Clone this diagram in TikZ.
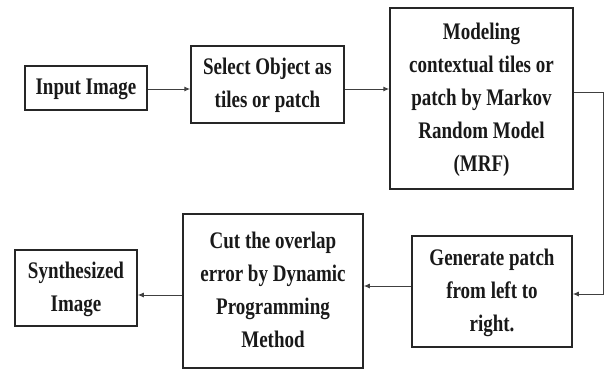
\documentclass[tikz,border=0pt]{standalone}
\usepackage{fontspec}
\setmainfont{Liberation Serif}
\usepackage{graphicx}
\usetikzlibrary{arrows.meta}
\newcommand\boxtxt[1]{\scalebox{1}[1.25]{\begin{tabular}{@{}c@{}}#1\end{tabular}}}
\tikzset{
  blk/.style={draw=black!85, line width=1.5pt, fill=white, inner sep=0pt, align=center,
    font=\fontsize{19}{26.4}\selectfont\bfseries, text=black!90},
  arr/.style={draw=black!75, line width=1pt, -{Latex[length=6pt,width=5pt]}},
  lin/.style={draw=black!75, line width=1pt}
}
\begin{document}
\begin{tikzpicture}[x=1pt,y=-1pt]
\useasboundingbox (0,0) rectangle (609,370);
\node[blk, minimum width=122pt, minimum height=44pt] (inp) at (86,88) {\boxtxt{Input Image}};
\node[blk, minimum width=153pt, minimum height=77pt] (sel) at (267.5,84.5) {\boxtxt{Select Object as\\tiles or patch}};
\node[blk, minimum width=183pt, minimum height=181pt] (mod) at (481.5,98.5) {\boxtxt{Modeling\\contextual tiles or\\patch by Markov\\Random Model\\(MRF)}};
\node[blk, minimum width=160pt, minimum height=111pt] (gen) at (492,291.5) {\boxtxt{Generate patch\\from left to\\right.}};
\node[blk, minimum width=180pt, minimum height=154pt] (cut) at (273,291) {\boxtxt{Cut the overlap\\error by Dynamic\\Programming\\Method}};
\node[blk, minimum width=122pt, minimum height=76pt] (syn) at (76,288) {\boxtxt{Synthesized\\Image}};
\coordinate (y1) at (0,89);
\coordinate (y2) at (0,92);
\coordinate (y3) at (0,294);
\coordinate (y4) at (0,286);
\coordinate (y5) at (0,295);
\coordinate (cx) at (603,0);
\draw[arr] (inp.east |- y1) -- (sel.west |- y1);
\draw[arr] (sel.east |- y1) -- (mod.west |- y1);
\draw[arr] (mod.east |- y2) -- (cx |- y2) -- (cx |- y3) -- (gen.east |- y3);
\draw[arr] (gen.west |- y4) -- (cut.east |- y4);
\draw[arr] (cut.west |- y5) -- (syn.east |- y5);
\end{tikzpicture}
\end{document}
